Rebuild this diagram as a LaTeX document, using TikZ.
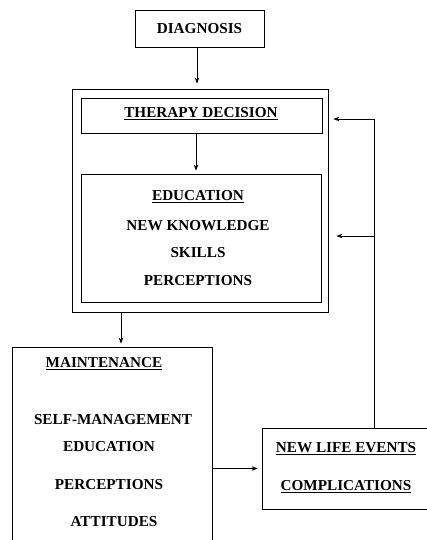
\documentclass[tikz,border=0pt]{standalone}
\usepackage{fontspec}
\setmainfont{Liberation Serif}
\usetikzlibrary{arrows.meta}
\begin{document}
\begin{tikzpicture}[x=1pt,y=-1pt,
  box/.style={draw,line width=0.8pt,rectangle,inner sep=0pt},
  lbl/.style={font=\fontsize{15.2}{17}\selectfont\bfseries,inner sep=0pt},
  arr/.style={line width=0.7pt,-{Stealth[length=6pt,width=4.5pt]}},
  ln/.style={line width=0.7pt}]
\useasboundingbox (0,0) rectangle (427,540);
% boxes
\node[box,minimum width=129pt,minimum height=37pt] (diag) at (199.5,28.5) {};
\node[box,minimum width=256pt,minimum height=223pt] (outer) at (200,200.5) {};
\node[box,minimum width=241pt,minimum height=35pt] (ther) at (201.5,115.5) {};
\node[box,minimum width=240pt,minimum height=128pt] (edu) at (201,238) {};
\node[box,minimum width=200pt,minimum height=201pt] (maint) at (112,447.5) {};
\node[box,minimum width=165pt,minimum height=81pt] (nle) at (344.5,468.5) {};
% texts
\node[lbl] (t1) at (diag) {DIAGNOSIS};
\node[lbl] (t2) at (201,114) {\underline{THERAPY DECISION}};
\node[lbl] (t3) at (198,197) {\underline{EDUCATION}};
\node[lbl] (t4) at (198,226) {NEW KNOWLEDGE};
\node[lbl] (t5) at (198,253) {SKILLS};
\node[lbl] (t6) at (198,281) {PERCEPTIONS};
\node[lbl] (t7) at (104,364) {\underline{MAINTENANCE}};
\node[lbl] (t8) at (113,420) {SELF-MANAGEMENT};
\node[lbl] (t9) at (109,447) {EDUCATION};
\node[lbl] (t10) at (109,485) {PERCEPTIONS};
\node[lbl] (t11) at (114,522) {ATTITUDES};
\node[lbl] (t12) at (346,449) {\underline{NEW LIFE EVENTS}};
\node[lbl] (t13) at (346,487) {\underline{COMPLICATIONS}};
% coordinates
\coordinate (d1) at (197,47);
\coordinate (o1) at (121,312);
\coordinate (fbtop) at (374,119);
\coordinate (fbmid) at (374,236);
% connectors
\draw[arr,shorten >=5pt] (d1) -- (d1 |- outer.north);
\draw[arr,shorten >=3pt] (ther.south -| 196,0) -- (edu.north -| 196,0);
\draw[arr,shorten >=3pt] (o1) -- (o1 |- maint.north);
\draw[arr,shorten >=4pt] (maint.east |- nle.west) -- (nle.west);
\draw[ln] (nle.north -| fbtop) -- (fbtop);
\draw[arr,shorten >=5pt] (fbtop) -- (fbtop -| outer.east);
\draw[arr,shorten >=8pt] (fbmid) -- (fbmid -| outer.east);
\end{tikzpicture}
\end{document}
